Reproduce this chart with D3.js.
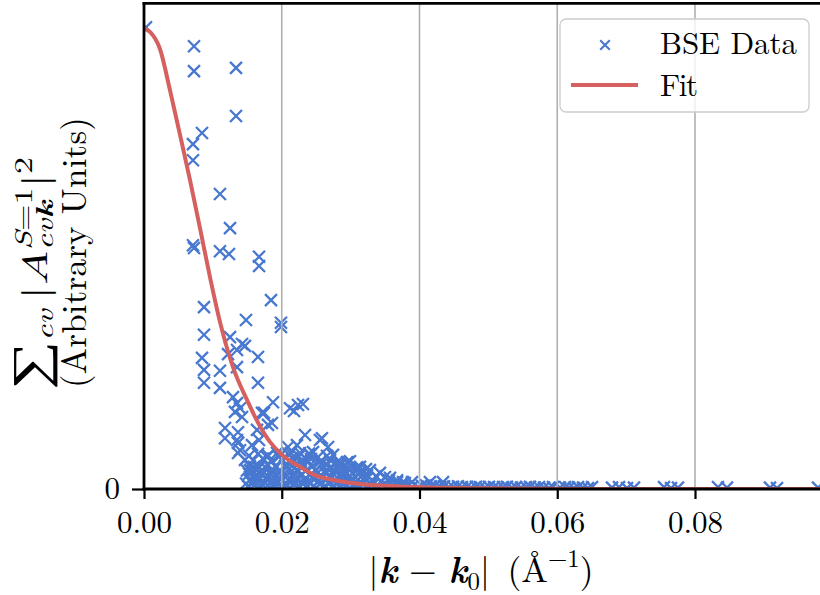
<!DOCTYPE html>
<html>
<head>
<meta charset="utf-8">
<script src="https://cdn.jsdelivr.net/npm/d3@7"></script>
<style>
  body { margin: 0; background: #fff; }
  svg { display: block; }
</style>
</head>
<body>
<div id="chart"></div>
<script>
// BSE weights: |k - k0| (1/Angstrom) and summed |A|^2 (arb. units)
const bseK = [
    0.00029, 0.00726, 0.00726, 0.01336, 0.01336, 0.00842, 0.00711, 0.00711, 0.01103, 0.01249,
    0.00711, 0.00726, 0.01103, 0.01234, 0.01670, 0.01670, 0.01844, 0.00871, 0.01481, 0.01989,
    0.01989, 0.00871, 0.01249, 0.01423, 0.01466, 0.01350, 0.01220, 0.00842, 0.01655, 0.00871,
    0.01103, 0.01350, 0.00871, 0.01103, 0.01655,
    0.01350, 0.01321, 0.01423, 0.01292, 0.01394, 0.01873, 0.01713, 0.02120, 0.02308, 0.02178,
    0.02236, 0.01742, 0.01858, 0.01176, 0.01365, 0.01641, 0.01800, 0.01176, 0.01350, 0.01568,
    0.01394, 0.01365, 0.01670, 0.02338, 0.02584, 0.02672, 0.02555, 0.02091, 0.02221, 0.02454,
    0.02134, 0.02265, 0.01931, 0.01786, 0.01365, 0.01466,
    0.02744, 0.02962, 0.02846, 0.03136, 0.03281, 0.03426, 0.03136, 0.03572, 0.03674, 0.03760,
    0.03891, 0.04152, 0.04341, 0.02802, 0.02947, 0.03107, 0.02991, 0.02657, 0.02875, 0.02410,
    0.02367, 0.02076, 0.02163, 0.01597, 0.01612, 0.01757, 0.01858, 0.01931, 0.01539, 0.01684,
    0.01568, 0.01757,
    0.01510, 0.01612, 0.01699, 0.01800, 0.01887, 0.01989, 0.02076, 0.02178, 0.02265, 0.02367,
    0.02454, 0.02555, 0.02643, 0.02744, 0.02846, 0.02933, 0.03035, 0.03122, 0.03223, 0.03310,
    0.03412, 0.03514, 0.03601, 0.03702, 0.03789, 0.03891, 0.03978,
    0.01481, 0.01583, 0.01713, 0.01829, 0.01946, 0.02062, 0.02192, 0.02308, 0.02425, 0.02555,
    0.02672, 0.02802, 0.02918, 0.03049, 0.03180, 0.03296,
    0.01554, 0.01655, 0.01771, 0.01873, 0.01989, 0.02105, 0.02207, 0.02323, 0.02439, 0.02541,
    0.02657, 0.02773, 0.02875, 0.02991, 0.03107, 0.03223, 0.03325, 0.03441, 0.03557, 0.03674,
    0.03789,
    0.01525, 0.01626, 0.01742, 0.01844, 0.01960, 0.02076, 0.02178, 0.02294, 0.02410, 0.02526,
    0.02643, 0.02759, 0.02875, 0.02991, 0.03107, 0.03238, 0.03368, 0.03499,
    0.01495, 0.01612, 0.01728, 0.01858, 0.01975, 0.02105, 0.02236, 0.02367, 0.02497, 0.02628,
    0.02759, 0.02889,
    0.01539, 0.01670, 0.01800, 0.01917, 0.02047, 0.02178, 0.02308, 0.02439, 0.02570, 0.02701,
    0.02831, 0.02962, 0.03093, 0.03223,
    0.01583, 0.01728, 0.01858, 0.02004, 0.02149, 0.02279, 0.02425, 0.02555, 0.02701, 0.02846,
    0.02991,
    0.01525, 0.01655, 0.01800, 0.01960, 0.02105, 0.02250, 0.02396, 0.02526, 0.02657,
    0.04037, 0.04095, 0.04167, 0.04225, 0.04298, 0.04356, 0.04428, 0.04487, 0.04559, 0.04617,
    0.04690, 0.04748, 0.04820, 0.04878, 0.04951, 0.05009, 0.05082, 0.05140, 0.05212, 0.05270,
    0.05343, 0.05401, 0.05474, 0.05546, 0.05604, 0.05677, 0.05735, 0.05808, 0.05880, 0.05938,
    0.06040, 0.06113, 0.06171, 0.06243, 0.06301, 0.06374, 0.06446, 0.06505, 0.06795, 0.06897,
    0.07013, 0.07114, 0.07550, 0.07652, 0.07753, 0.08334, 0.08465, 0.09089, 0.09191, 0.09786
];
const bseAmp = [
    1.000, 0.959, 0.905, 0.912, 0.808, 0.771, 0.747, 0.712, 0.639, 0.565,
    0.528, 0.522, 0.515, 0.509, 0.503, 0.483, 0.409, 0.394, 0.366, 0.360,
    0.351, 0.334, 0.329, 0.314, 0.310, 0.301, 0.292, 0.284, 0.286, 0.258,
    0.256, 0.264, 0.230, 0.219, 0.230,
    0.186, 0.167, 0.156, 0.199, 0.175, 0.188, 0.165, 0.175, 0.184, 0.169,
    0.182, 0.165, 0.143, 0.132, 0.123, 0.128, 0.139, 0.110, 0.106, 0.095,
    0.084, 0.100, 0.106, 0.117, 0.110, 0.091, 0.106, 0.091, 0.095, 0.080,
    0.078, 0.078, 0.078, 0.069, 0.078, 0.063,
    0.074, 0.058, 0.052, 0.048, 0.041, 0.035, 0.035, 0.024, 0.019, 0.015,
    0.015, 0.015, 0.015, 0.058, 0.058, 0.045, 0.041, 0.052, 0.030, 0.074,
    0.063, 0.048, 0.026, 0.048, 0.026, 0.048, 0.037, 0.019, 0.041, 0.035,
    0.013, 0.013,
    0.006, 0.009, 0.004, 0.008, 0.011, 0.005, 0.007, 0.010, 0.004, 0.008,
    0.006, 0.010, 0.005, 0.007, 0.009, 0.004, 0.006, 0.008, 0.005, 0.007,
    0.004, 0.006, 0.008, 0.005, 0.006, 0.004, 0.005,
    0.012, 0.014, 0.011, 0.013, 0.015, 0.012, 0.014, 0.011, 0.013, 0.012,
    0.014, 0.011, 0.013, 0.012, 0.010, 0.011,
    0.021, 0.018, 0.024, 0.019, 0.022, 0.017, 0.023, 0.020, 0.025, 0.018,
    0.021, 0.019, 0.023, 0.017, 0.020, 0.022, 0.018, 0.016, 0.019, 0.015,
    0.013,
    0.033, 0.030, 0.036, 0.031, 0.034, 0.029, 0.035, 0.032, 0.030, 0.036,
    0.033, 0.031, 0.034, 0.029, 0.032, 0.030, 0.028, 0.026,
    0.040, 0.043, 0.039, 0.042, 0.041, 0.044, 0.038, 0.042, 0.040, 0.039,
    0.041, 0.038,
    0.049, 0.046, 0.052, 0.047, 0.050, 0.045, 0.051, 0.048, 0.053, 0.046,
    0.049, 0.044, 0.047, 0.043,
    0.062, 0.066, 0.060, 0.064, 0.067, 0.061, 0.065, 0.059, 0.063, 0.058,
    0.060,
    0.072, 0.076, 0.073, 0.070, 0.075, 0.071, 0.077, 0.069, 0.072,
    0.007, 0.008, 0.006, 0.007, 0.005, 0.006, 0.004, 0.005, 0.006, 0.004,
    0.005, 0.003, 0.005, 0.004, 0.003, 0.005, 0.004, 0.003, 0.004, 0.005,
    0.003, 0.004, 0.003, 0.004, 0.005, 0.003, 0.004, 0.003, 0.002, 0.004,
    0.003, 0.004, 0.003, 0.002, 0.004, 0.003, 0.002, 0.004, 0.003, 0.004,
    0.002, 0.003, 0.004, 0.002, 0.003, 0.004, 0.003, 0.003, 0.002, 0.003
];

// fitted envelope, sampled off the red curve
const fitK = [0, 0.00087, 0.00232, 0.00377, 0.00523, 0.00668, 0.00813, 0.00958, 0.01103, 0.01292,
    0.01495, 0.01684, 0.01829, 0.01989, 0.02120, 0.02265, 0.02497, 0.02701, 0.02918, 0.03136,
    0.03572, 0.04007, 0.04733, 0.05750, 0.07200, 0.10000];
const fitAmp = [0.998, 0.990, 0.953, 0.864, 0.767, 0.669, 0.565, 0.459, 0.362, 0.264,
    0.193, 0.136, 0.102, 0.076, 0.061, 0.048, 0.029, 0.021, 0.015, 0.011,
    0.0065, 0.0037, 0.0017, 0.0006, 0, 0];

const xTicks = [0, 0.02, 0.04, 0.06, 0.08];
const xTickLabels = ['0.00', '0.02', '0.04', '0.06', '0.08'];
const yTicks = [0];
const yTickLabels = ['0'];
const legendLabels = ['BSE Data', 'Fit'];

const width = 820;
const height = 595;
const font = '"Latin Modern Roman"';
const blue = '#4878d0';
const red = '#d65f5f';

const plotTop = 3.3, plotBottom = 489, plotLeft = 144;

const x = d3.scaleLinear().domain([0, 0.1]).range([plotLeft, plotLeft + 688.75]);
const y = d3.scaleLinear().domain([0, 1.052]).range([plotBottom, plotTop]);

const svg = d3.select('#chart')
    .append('svg')
    .attr('width', width)
    .attr('height', height)
    .style('font-family', font);

svg.append('clipPath').attr('id', 'plot-clip')
    .append('rect')
    .attr('x', plotLeft).attr('y', plotTop)
    .attr('width', width - plotLeft).attr('height', plotBottom - plotTop);

const plot = svg.append('g').attr('clip-path', 'url(#plot-clip)');

const cross = 'M-6,-6L6,6M-6,6L6,-6';

plot.append('g')
    .selectAll('path')
    .data(d3.range(bseK.length))
    .enter()
    .append('path')
    .attr('d', cross)
    .attr('transform', i => `translate(${x(bseK[i])},${y(bseAmp[i])})`)
    .attr('fill', 'none')
    .attr('stroke', blue)
    .attr('stroke-width', 2.3);

// vertical grid (drawn above the markers, as in the original)
plot.append('g')
    .selectAll('line')
    .data(xTicks.filter(d => d > 0))
    .enter()
    .append('line')
    .attr('x1', d => x(d)).attr('x2', d => x(d))
    .attr('y1', plotTop).attr('y2', plotBottom)
    .attr('stroke', '#b0b0b0')
    .attr('stroke-width', 1.6);

const fitLine = d3.line()
    .x(i => x(fitK[i]))
    .y(i => y(fitAmp[i]))
    .curve(d3.curveMonotoneX);

plot.append('path')
    .attr('d', fitLine(d3.range(fitK.length)))
    .attr('fill', 'none')
    .attr('stroke', red)
    .attr('stroke-width', 4);

// axes
const xAxis = svg.append('g')
    .attr('transform', `translate(0,${plotBottom})`)
    .call(d3.axisBottom(x).tickValues(xTicks).tickFormat((d, i) => xTickLabels[i]).tickSize(10).tickPadding(12));
xAxis.select('.domain').remove();
xAxis.attr('font-family', null).attr('font-size', 31);
xAxis.selectAll('text').style('font-family', font);
xAxis.selectAll('line').attr('stroke-width', 2.2);

const yAxis = svg.append('g')
    .attr('transform', `translate(${plotLeft},0)`)
    .call(d3.axisLeft(y).tickValues(yTicks).tickFormat((d, i) => yTickLabels[i]).tickSize(12).tickPadding(12));
yAxis.select('.domain').remove();
yAxis.attr('font-family', null).attr('font-size', 31);
yAxis.selectAll('text').style('font-family', font);
yAxis.selectAll('line').attr('stroke-width', 2.2);

const spines = svg.append('g').attr('stroke', '#000').attr('stroke-width', 2.8).attr('stroke-linecap', 'square');
spines.append('line').attr('x1', plotLeft).attr('x2', plotLeft).attr('y1', plotTop).attr('y2', plotBottom);
spines.append('line').attr('x1', plotLeft).attr('x2', width + 5).attr('y1', plotBottom).attr('y2', plotBottom);
spines.append('line').attr('x1', plotLeft).attr('x2', width + 5).attr('y1', plotTop).attr('y2', plotTop);

// legend
const legend = svg.append('g');
legend.append('rect')
    .attr('x', 560).attr('y', 19).attr('width', 249).attr('height', 93).attr('rx', 6)
    .attr('fill', '#fff').attr('fill-opacity', 0.8)
    .attr('stroke', '#cccccc').attr('stroke-width', 1.3);
legend.append('path')
    .attr('d', cross)
    .attr('transform', 'translate(605,45) scale(0.8)')
    .attr('fill', 'none').attr('stroke', blue).attr('stroke-width', 2.6);
legend.append('line')
    .attr('x1', 571).attr('x2', 638).attr('y1', 85).attr('y2', 85)
    .attr('stroke', red).attr('stroke-width', 4);
legend.append('text').attr('x', 660).attr('y', 54).attr('font-size', 31)
    .attr('textLength', 137).attr('lengthAdjust', 'spacing').text(legendLabels[0]);
legend.append('text').attr('x', 660).attr('y', 96).attr('font-size', 31)
    .attr('textLength', 38).attr('lengthAdjust', 'spacing').text(legendLabels[1]);

// small mathtext helper: items are [text, style, size] or {sup: [...], sub: [...]}
function mathText(text, items, base, subShift) {
    let shift = 0;
    let extra = 0;
    const add = (s, size, to, style, dx) => {
        const ts = text.append('tspan').text(s).attr('font-size', size).attr('dy', to - shift);
        if (style === 'i' || style === 'bi') ts.attr('font-style', 'italic');
        if (style === 'bi') ts.attr('font-weight', 'bold');
        if (dx + extra) ts.attr('dx', dx + extra);
        extra = 0;
        shift = to;
        return ts.node().getComputedTextLength();
    };
    items.forEach(it => {
        if (Array.isArray(it)) {
            add(it[0], it[2] || base, 0, it[1], 0);
        } else {
            let wSup = 0, wSub = 0;
            (it.sup || []).forEach(p => { wSup += add(p[0], base * 0.7, -base * 0.42, p[1], 0); });
            (it.sub || []).forEach((p, j) => {
                wSub += add(p[0], base * 0.7, base * subShift, p[1], j === 0 && it.sup ? -wSup : 0);
            });
            if (it.sup && it.sub && wSup > wSub) extra = wSup - wSub;
        }
    });
}

// stretch a label along its baseline so it spans the same length as the original
function fitLength(text, tx, ty, rot, target, anchor) {
    const b = text.node().getBBox();
    const s = target / b.width;
    const x0 = anchor === 'middle' ? -b.x - b.width / 2 : -b.x;
    text.attr('transform', `translate(${tx},${ty}) rotate(${rot}) scale(${s},1) translate(${x0},0)`);
}

// y label, two rotated lines
const yLab1 = svg.append('text').attr('font-size', 35);
mathText(yLab1, [
    ['\u2211', 'r', 50],
    {sub: [['cv', 'i']]},
    ['\u2009|', 'r'],
    ['A', 'i'],
    {sup: [['S', 'i'], ['=1', 'r']], sub: [['cv', 'i'], ['k', 'bi']]},
    ['|', 'r'],
    {sup: [['2', 'r']]}
], 35, 0.17);
fitLength(yLab1, 47, 390, -90, 233, 'start');

svg.append('text')
    .attr('transform', 'translate(86,388) rotate(-90)')
    .attr('font-size', 35)
    .attr('textLength', 271).attr('lengthAdjust', 'spacing')
    .text('(Arbitrary Units)');

// x label
const xLab = svg.append('text').attr('font-size', 35);
mathText(xLab, [
    ['|', 'r'],
    ['k', 'bi'],
    [' \u2212 ', 'r'],
    ['k', 'bi'],
    {sub: [['0', 'r']]},
    ['|', 'r'],
    ['\u2002(\u00c5', 'r'],
    {sup: [['\u22121', 'r']]},
    [')', 'r']
], 35, 0.22);
fitLength(xLab, 481, 582, 0, 225, 'middle');
</script>
</body>
</html>
